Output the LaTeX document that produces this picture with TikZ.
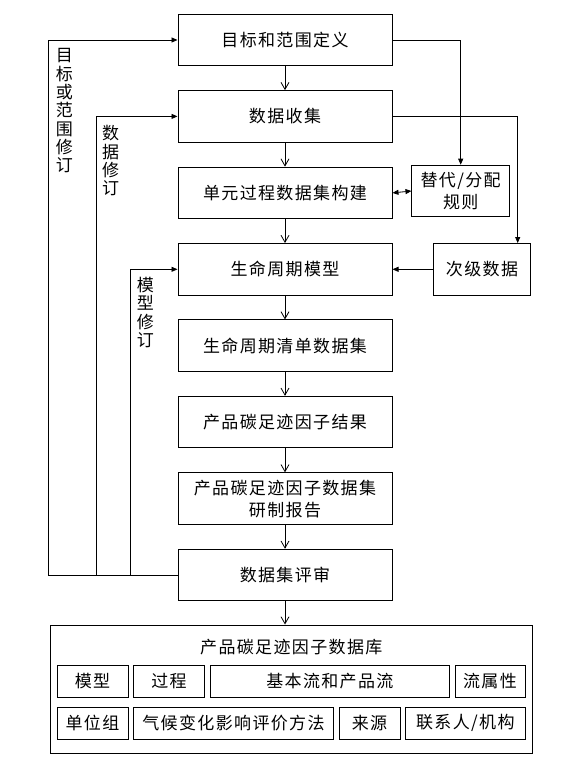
\documentclass[tikz,border=0pt]{standalone}
\usepackage{fontspec}
\setmainfont[LetterSpace=8]{Noto Sans CJK SC}
\usetikzlibrary{arrows.meta}

\tikzset{
  stage/.style={draw,line width=1pt,minimum width=214pt,minimum height=51.5pt,align=center,inner sep=0pt},
  sidebox/.style={draw,line width=1pt,minimum width=97.5pt,minimum height=51.5pt,align=center,inner sep=0pt},
  cell/.style={draw,line width=1pt,minimum height=32pt,inner sep=0pt},
  vlabel/.style={align=center,inner sep=0pt,font=\fontsize{17}{18.3}\selectfont},
  down/.style={line width=0.8pt,-{Straight Barb[length=7pt,width=8pt]}},
  tri/.style={line width=0.8pt,-{Triangle[length=6pt,width=5pt]}},
  tritwo/.style={line width=0.8pt,{Triangle[length=6pt,width=5pt]}-{Triangle[length=6pt,width=5pt]}}
}

\begin{document}
\begin{tikzpicture}[x=1pt,y=-1pt,font=\fontsize{17}{22}\selectfont]
    \useasboundingbox (0,0) rectangle (575,762);
    % main column
    \node[stage] (goal) at (285,40) {目标和范围定义};
    \node[stage] (collect) at (285,116.4) {数据收集};
    \node[stage] (unit) at (285,192.9) {单元过程数据集构建};
    \node[stage] (model) at (285,269.3) {生命周期模型};
    \node[stage] (lci) at (285,345.7) {生命周期清单数据集};
    \node[stage] (result) at (285,422.1) {产品碳足迹因子结果};
    \node[stage] (report) at (285,498.6) {产品碳足迹因子数据集\\研制报告};
    \node[stage] (review) at (285,575) {数据集评审};
    \foreach \a/\b in {goal/collect,collect/unit,unit/model,model/lci,lci/result,result/report,report/review}
      \draw[down] (\a) -- (\b);
    % side boxes
    \node[sidebox] (alloc) at (460.7,191) {替代/分配\\规则};
    \node[sidebox] (second) at (482,269.3) {次级数据};
    \coordinate (tapr) at (517.7,0);
    \draw[tri] (goal.east) -| (alloc.north);
    \draw[tri] (collect.east) -| (tapr |- second.north);
    \draw[tritwo] (unit.east) -- (alloc.west);
    \draw[tri] (second.west) -- (model.east);
    % revision loops
    \coordinate (loopa) at (48.5,0);
    \coordinate (loopb) at (96.3,0);
    \coordinate (loopc) at (130.5,0);
    \draw[tri] (review.west) -- (loopa |- review.west) |- (goal.west);
    \draw[tri] (loopb |- review.west) |- (collect.west);
    \draw[tri] (loopc |- review.west) |- (model.west);
    \node[vlabel] (lbla) at (64.3,110.8) {目\\标\\或\\范\\围\\修\\订};
    \node[vlabel] (lblb) at (110.7,160.8) {数\\据\\修\\订};
    \node[vlabel] (lblc) at (145.3,312.5) {模\\型\\修\\订};
    % database
    \node[draw,line width=1pt,minimum width=482.6pt,minimum height=128pt,inner sep=0pt] (db) at (291.3,689) {};
    \draw[down] (review.south) -- (review.south |- db.north);
    \node (dbtitle) at (291.3,646.7) {产品碳足迹因子数据库};
    \node[cell,minimum width=71pt] (cmodel) at (92.5,681) {模型};
    \node[cell,minimum width=71.2pt] (cproc) at (169,681) {过程};
    \node[cell,minimum width=239.7pt] (cflow) at (329.9,681) {基本流和产品流};
    \node[cell,minimum width=70pt] (cprop) at (490,681) {流属性};
    \node[cell,minimum width=71pt] (cunit) at (92.5,723.3) {单位组};
    \node[cell,minimum width=200.2pt] (cmeth) at (233.5,723.3) {气候变化影响评价方法};
    \node[cell,minimum width=61pt] (csrc) at (369.5,723.3) {来源};
    \node[cell,minimum width=119.5pt] (corg) at (465.3,723.3) {联系人/机构};
  \end{tikzpicture}
\end{document}
